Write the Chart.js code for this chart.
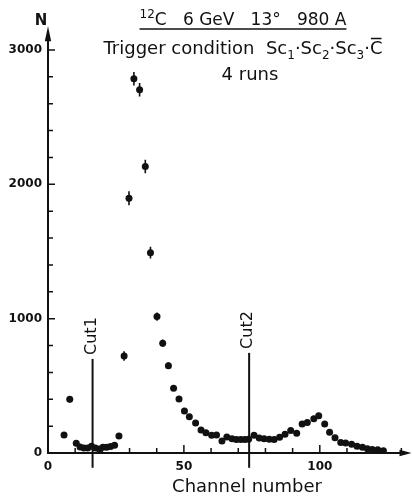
<!DOCTYPE html>
<html>
<head>
<meta charset="utf-8">
<script src="https://cdn.jsdelivr.net/npm/chart.js@4/dist/chart.umd.min.js"></script>
<style>
  html, body { margin: 0; padding: 0; background: #fff; }
  #c { display: block; }
</style>
</head>
<body>
<canvas id="c" width="413" height="499"></canvas>
<script>
// values
var channels = [5.9, 8.0, 10.4, 11.8, 13.2, 14.6, 16.0, 17.4, 18.8, 20.2,
  21.6, 23.0, 24.5, 26.1, 28.0, 29.8, 31.6, 33.7, 35.8, 37.7,
  40.1, 42.2, 44.3, 46.2, 48.2, 50.2, 52.0, 54.3, 56.3, 58.1,
  60.2, 62.0, 64.0, 65.8, 67.7, 69.3, 70.9, 72.4, 73.8, 75.8,
  77.7, 79.5, 81.4, 83.2, 85.2, 87.2, 89.3, 91.5, 93.5, 95.4,
  97.8, 99.6, 101.8, 103.6, 105.6, 107.7, 109.5, 111.7, 113.7, 115.7,
  117.5, 119.3, 121.3, 123.4];
var counts = [134, 400, 72, 45, 38, 38, 50, 38, 30, 42,
  42, 48, 58, 127, 722, 1896, 2785, 2703, 2132, 1491,
  1015, 817, 650, 482, 402, 313, 270, 224, 171, 150,
  132, 134, 89, 119, 106, 100, 100, 100, 103, 132,
  112, 106, 103, 100, 118, 140, 168, 147, 216, 227,
  255, 277, 215, 155, 114, 79, 75, 65, 50, 43,
  32, 26, 24, 17];
var errors = [0, 25, 0, 0, 0, 0, 0, 0, 0, 0,
  0, 0, 0, 15, 35, 52, 50, 50, 50, 43,
  30, 28, 25, 20, 0, 0, 0, 0, 0, 0,
  0, 0, 0, 0, 0, 0, 0, 0, 0, 0,
  0, 0, 0, 0, 0, 0, 0, 0, 0, 0,
  0, 0, 0, 0, 0, 0, 0, 0, 0, 0,
  0, 0, 0, 0];

var cutChannels = [16.4, 74];
var cutLabels = ['Cut1', 'Cut2'];
var cutTops = [700, 745];
var cutBottom = -110;

var xMajor = [0, 50, 100];
var yMajor = [0, 1000, 2000, 3000];
var yArrowTip = 3175;

var ink = '#111';
var face = '"DejaVu Sans", "Liberation Sans", sans-serif';

var points = channels.map(function(c, i) { return { x: c, y: counts[i] }; });

function isMajor(list, v) {
  return list.indexOf(Math.round(Number(v))) >= 0;
}

// text with sub/superscripts, centred on cx
function richText(ctx, parts, cx, y, size) {
  var small = Math.round(size * 0.68);
  var widths = parts.map(function(p) {
    ctx.font = ((p[1] === 'sup' || p[1] === 'sub') ? small : size) + 'px ' + face;
    return ctx.measureText(p[0]).width;
  });
  var total = widths.reduce(function(s, w) { return s + w; }, 0);
  var x = cx - total / 2;
  ctx.textAlign = 'left';
  ctx.textBaseline = 'alphabetic';
  parts.forEach(function(p, i) {
    var dy = 0;
    if (p[1] === 'sup') dy = -size * 0.42;
    if (p[1] === 'sub') dy = size * 0.28;
    ctx.font = ((p[1] === 'sup' || p[1] === 'sub') ? small : size) + 'px ' + face;
    ctx.fillText(p[0], x, y + dy);
    if (p[1] === 'bar') {
      ctx.lineWidth = 1.5;
      ctx.beginPath();
      ctx.moveTo(x + 1, y - size * 0.86);
      ctx.lineTo(x + widths[i] - 1, y - size * 0.86);
      ctx.stroke();
    }
    x += widths[i];
  });
  return { left: cx - total / 2, right: cx + total / 2 };
}

var decor = {
  id: 'decor',
  afterDraw: function(chart) {
    var ctx = chart.ctx;
    var xs = chart.scales.x, ys = chart.scales.y, a = chart.chartArea;
    var tipY = ys.getPixelForValue(yArrowTip);
    ctx.save();
    ctx.strokeStyle = ink;
    ctx.fillStyle = ink;

    // axes with arrows
    ctx.lineWidth = 2;
    ctx.beginPath();
    ctx.moveTo(a.left, a.bottom + 1);
    ctx.lineTo(a.left, tipY + 10);
    ctx.moveTo(a.left - 1, a.bottom);
    ctx.lineTo(a.right - 6, a.bottom);
    ctx.stroke();
    ctx.beginPath();
    ctx.moveTo(a.left, tipY);
    ctx.lineTo(a.left - 3.2, tipY + 15);
    ctx.lineTo(a.left + 3.2, tipY + 15);
    ctx.closePath();
    ctx.fill();
    ctx.beginPath();
    ctx.moveTo(a.right + 2, a.bottom);
    ctx.lineTo(a.right - 10, a.bottom - 3.2);
    ctx.lineTo(a.right - 10, a.bottom + 3.2);
    ctx.closePath();
    ctx.fill();

    // inward tick marks
    ctx.lineWidth = 1.5;
    ctx.beginPath();
    ys.ticks.forEach(function(t) {
      if (t.value <= 0 || t.value > 3000) return;
      var py = ys.getPixelForValue(t.value);
      var len = isMajor(yMajor, t.value) ? 7 : 5;
      ctx.moveTo(a.left - 1, py);
      ctx.lineTo(a.left + len, py);
    });
    xs.ticks.forEach(function(t) {
      if (t.value <= 0) return;
      var px = xs.getPixelForValue(t.value);
      var len = isMajor(xMajor, t.value) ? 8 : 5;
      ctx.moveTo(px, a.bottom);
      ctx.lineTo(px, a.bottom - len);
    });
    ctx.stroke();

    // error bars
    var meta = chart.getDatasetMeta(0);
    ctx.lineWidth = 1.6;
    ctx.beginPath();
    meta.data.forEach(function(el, i) {
      if (!errors[i]) return;
      ctx.moveTo(el.x, ys.getPixelForValue(counts[i] + errors[i]));
      ctx.lineTo(el.x, ys.getPixelForValue(counts[i] - errors[i]));
    });
    ctx.stroke();

    // cut lines
    ctx.lineWidth = 2;
    cutChannels.forEach(function(c, i) {
      var px = xs.getPixelForValue(c);
      var top = ys.getPixelForValue(cutTops[i]);
      ctx.beginPath();
      ctx.moveTo(px, ys.getPixelForValue(cutBottom));
      ctx.lineTo(px, top);
      ctx.stroke();
      ctx.save();
      ctx.translate(px - 1, top - 4);
      ctx.rotate(-Math.PI / 2);
      ctx.font = '16px ' + face;
      ctx.textAlign = 'left';
      ctx.textBaseline = 'middle';
      ctx.fillText(cutLabels[i], 0, 0);
      ctx.restore();
    });

    // axis names
    ctx.font = 'bold 15px ' + face;
    ctx.textAlign = 'center';
    ctx.textBaseline = 'alphabetic';
    ctx.fillText('N', 41, 25);
    ctx.font = '18px ' + face;
    ctx.fillText('Channel number', 247, 492);

    // heading
    var l1 = richText(ctx, [['12', 'sup'], ['C   6 GeV   13\u00b0   980 A', '']], 243, 25, 17);
    ctx.lineWidth = 1.5;
    ctx.beginPath();
    ctx.moveTo(l1.left, 29);
    ctx.lineTo(l1.right, 29);
    ctx.stroke();
    richText(ctx, [['Trigger condition  Sc', ''], ['1', 'sub'], ['\u00b7Sc', ''], ['2', 'sub'],
      ['\u00b7Sc', ''], ['3', 'sub'], ['\u00b7', ''], ['C', 'bar']], 243, 54, 18);
    ctx.font = '18px ' + face;
    ctx.textAlign = 'center';
    ctx.fillText('4 runs', 250, 80);
    ctx.restore();
  }
};

new Chart(document.getElementById('c'), {
  type: 'scatter',
  data: {
    datasets: [{
      data: points,
      pointRadius: 3.5,
      pointHoverRadius: 3.5,
      pointBackgroundColor: ink,
      pointBorderWidth: 0,
      showLine: false
    }]
  },
  options: {
    responsive: false,
    animation: false,
    layout: { padding: { top: 23, right: 3, left: 0, bottom: 0 } },
    plugins: { legend: { display: false }, tooltip: { enabled: false } },
    scales: {
      x: {
        type: 'linear',
        min: 0,
        max: 133,
        afterFit: function(s) { s.height = 46; },
        grid: { display: false, drawTicks: false },
        border: { display: false },
        ticks: {
          stepSize: 10,
          includeBounds: false,
          padding: 7,
          maxRotation: 0,
          autoSkip: false,
          color: ink,
          font: { family: face, size: 12, weight: 'bold' },
          callback: function(v) { return isMajor(xMajor, v) ? String(Math.round(v)) : ''; }
        }
      },
      y: {
        type: 'linear',
        min: 0,
        max: 3200,
        afterFit: function(s) { s.width = 48; },
        grid: { display: false, drawTicks: false },
        border: { display: false },
        ticks: {
          stepSize: 200,
          includeBounds: false,
          padding: 6,
          autoSkip: false,
          color: ink,
          font: { family: face, size: 12, weight: 'bold' },
          callback: function(v) { return isMajor(yMajor, v) ? String(Math.round(v)) : ''; }
        }
      }
    }
  },
  plugins: [decor]
});
</script>
</body>
</html>
